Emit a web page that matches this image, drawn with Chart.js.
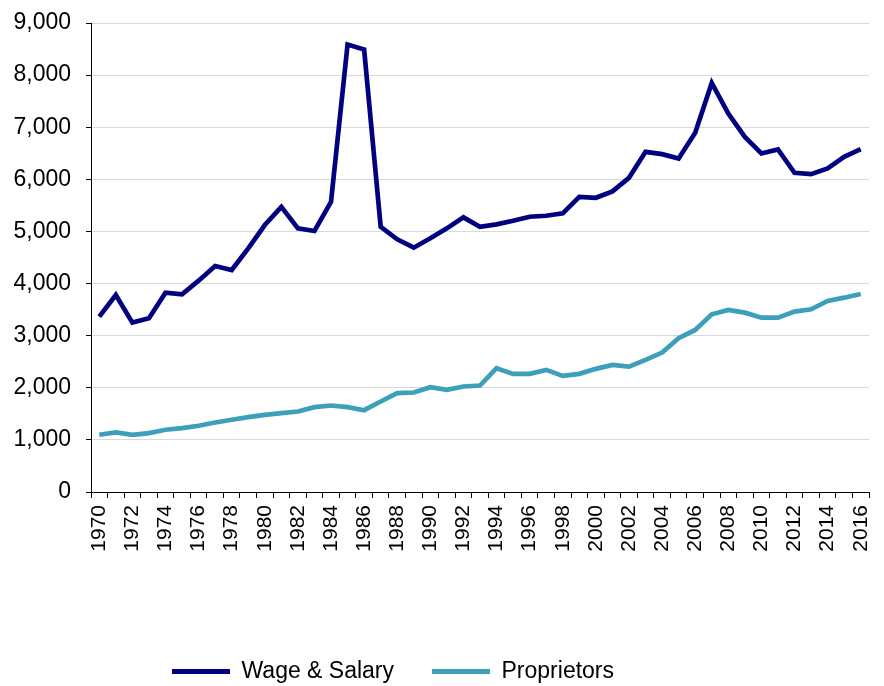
<!DOCTYPE html>
<html>
<head>
<meta charset="utf-8">
<script src="https://cdn.jsdelivr.net/npm/chart.js@4"></script>
<style>
  html, body { margin: 0; padding: 0; background: #fff; }
  #chart { display: block; }
</style>
</head>
<body>
<canvas id="chart" width="884" height="686"></canvas>
<script>
const years = [];
for (let y = 1970; y <= 2016; y++) years.push(String(y));

const wageSalary = [
    3365, 3781, 3250, 3334, 3825, 3794, 4055, 4337, 4260, 4676,
    5123, 5473, 5059, 5008, 5569, 8586, 8490, 5090, 4849, 4688,
    4868, 5059, 5270, 5090, 5136, 5205, 5282, 5301, 5347, 5665,
    5646, 5768, 6029, 6528, 6483, 6401, 6892, 7850, 7263, 6815,
    6497, 6573, 6125, 6100, 6209, 6432, 6579
];

const proprietors = [
    1098, 1142, 1098, 1131, 1194, 1226, 1271, 1334, 1386, 1437,
    1481, 1514, 1545, 1629, 1660, 1629, 1570, 1736, 1897, 1909,
    2012, 1961, 2024, 2043, 2376, 2267, 2267, 2344, 2229, 2267,
    2363, 2440, 2407, 2535, 2676, 2951, 3110, 3411, 3494, 3442,
    3346, 3346, 3461, 3507, 3666, 3729, 3800
];

const yTicks = [0, 1000, 2000, 3000, 4000, 5000, 6000, 7000, 8000, 9000];

const fontFamily = '"Liberation Sans", Arial, sans-serif';

// legend: fixed height (big padding is only wanted between items),
// and moved left like in the original
const legendTweak = {
    id: 'legendTweak',
    afterInit(chart) {
        const legend = chart.legend;
        const origFit = legend.fit;
        legend.fit = function () {
            origFit.call(this);
            this.height = 64;
        };
    },
    afterLayout(chart) {
        chart.legend.right -= 83;
    }
};

const ctx = document.getElementById('chart').getContext('2d');
new Chart(ctx, {
    type: 'line',
    data: {
        labels: years,
        datasets: [
            {
                label: 'Wage & Salary',
                data: wageSalary,
                borderColor: '#000080',
                backgroundColor: '#000080',
                borderWidth: 4.7,
                pointRadius: 0,
                tension: 0
            },
            {
                label: 'Proprietors',
                data: proprietors,
                borderColor: '#3d9fba',
                backgroundColor: '#3d9fba',
                borderWidth: 4.7,
                pointRadius: 0,
                tension: 0
            }
        ]
    },
    options: {
        responsive: false,
        animation: false,
        layout: {
            padding: { top: 23, right: 15, bottom: 0, left: 0 }
        },
        plugins: {
            tooltip: { enabled: false },
            legend: {
                position: 'bottom',
                labels: {
                    boxWidth: 58,
                    boxHeight: 5,
                    padding: 38,
                    color: '#000',
                    font: { family: fontFamily, size: 23 },
                    generateLabels(chart) {
                        const items = Chart.defaults.plugins.legend.labels.generateLabels(chart);
                        items.forEach(it => { it.lineWidth = 0; });
                        return items;
                    }
                }
            }
        },
        scales: {
            x: {
                offset: true,
                afterFit(s) {
                    s.height = 130;
                    s.paddingLeft = 0;
                    s.paddingRight = 0;
                },
                border: { color: '#000', width: 1 },
                grid: {
                    offset: true,
                    drawOnChartArea: false,
                    tickLength: 6,
                    tickColor: '#000'
                },
                ticks: {
                    autoSkip: false,
                    maxRotation: 90,
                    minRotation: 90,
                    padding: 7,
                    color: '#000',
                    font: { family: fontFamily, size: 21 },
                    callback(value, index) {
                        return index % 2 === 0 ? years[index] : '';
                    }
                }
            },
            y: {
                min: 0,
                max: 9000,
                afterFit(s) {
                    s.width = 91;
                    s.paddingTop = 0;
                },
                afterBuildTicks(s) {
                    s.ticks = yTicks.map(v => ({ value: v }));
                },
                border: { color: '#000', width: 1 },
                grid: {
                    color: '#d9d9d9',
                    lineWidth: 1,
                    tickLength: 5,
                    tickColor: '#000'
                },
                ticks: {
                    padding: 15,
                    color: '#000',
                    font: { family: fontFamily, size: 23 },
                    callback(value) {
                        return value.toLocaleString('en-US');
                    }
                }
            }
        }
    },
    plugins: [legendTweak]
});
</script>
</body>
</html>
